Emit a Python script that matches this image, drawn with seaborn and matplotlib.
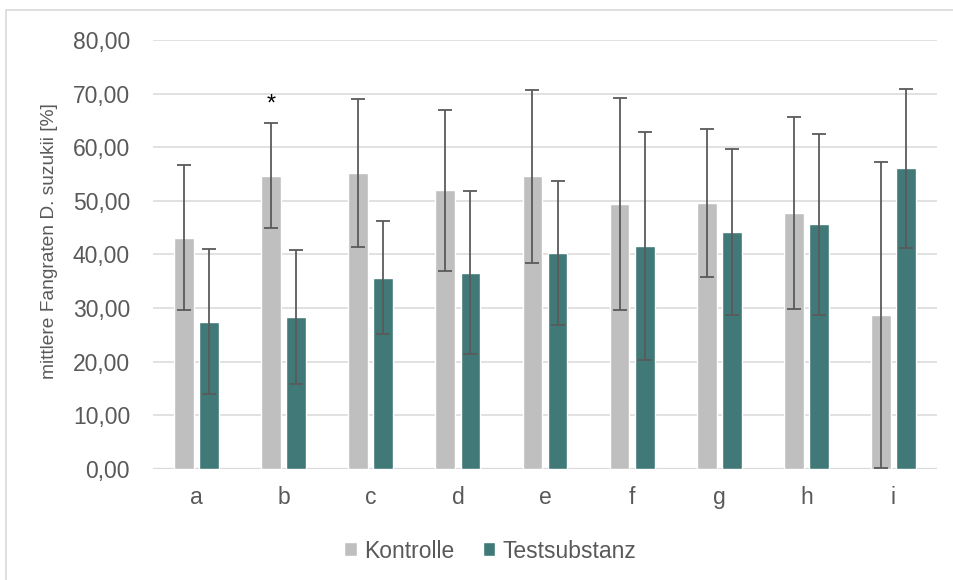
import matplotlib
matplotlib.use("Agg")
import matplotlib.pyplot as plt
from matplotlib.patches import Rectangle
import seaborn as sns
import pandas as pd
import numpy as np

# Categories and series (means with standard deviations)
categories = ["a", "b", "c", "d", "e", "f", "g", "h", "i"]
groups = ["Kontrolle", "Testsubstanz"]
kontrolle = [43.1, 54.7, 55.2, 52.0, 54.6, 49.4, 49.6, 47.7, 28.7]
kontrolle_sd = [13.5, 9.8, 13.8, 15.0, 16.1, 19.7, 13.8, 17.9, 28.5]
testsubstanz = [27.5, 28.4, 35.7, 36.6, 40.3, 41.6, 44.2, 45.6, 56.1]
testsubstanz_sd = [13.6, 12.5, 10.5, 15.2, 13.4, 21.2, 15.4, 16.8, 14.8]
yticks = [0, 10, 20, 30, 40, 50, 60, 70, 80]
ylabel = "mittlere Fangraten D. suzukii [%]"

colors = {"Kontrolle": "#BFBFBF", "Testsubstanz": "#407977"}
text_color = "#595959"
grid_color = "#D9D9D9"

sns.set_theme(style="white")
plt.rcParams["font.family"] = ["Liberation Sans", "DejaVu Sans"]

df = pd.DataFrame({
    "Kategorie": categories * 2,
    "Gruppe": [groups[0]] * len(categories) + [groups[1]] * len(categories),
    "Wert": kontrolle + testsubstanz,
})

fig = plt.figure(figsize=(9.54, 5.8), dpi=100)
W, H = 954, 580
ax = fig.add_axes([153 / W, 1 - 469 / H, (937 - 153) / W, (469 - 40) / H])

sns.barplot(data=df, x="Kategorie", y="Wert", hue="Gruppe",
            hue_order=groups, order=categories, palette=colors,
            width=0.577, gap=0.21, errorbar=None, saturation=1,
            ax=ax, zorder=2)

# Error bars at the bar centres
for container, sd, vals in zip(ax.containers, [kontrolle_sd, testsubstanz_sd],
                               [kontrolle, testsubstanz]):
    xs = [p.get_x() + p.get_width() / 2 for p in container.patches]
    ax.errorbar(xs, vals, yerr=sd, fmt="none", ecolor="#5A5A5A",
                elinewidth=1.3, capsize=4.7, capthick=1.3, zorder=3,
                clip_on=True)

# Significance marker above group b
xb = ax.containers[0].patches[1]
ax.text(xb.get_x() + xb.get_width() / 2, 66.0, "*", ha="center", va="bottom",
        fontsize=17, color="black", zorder=4)

ax.set_ylim(0, 80)
ax.set_xlim(-0.5, len(categories) - 0.5)
ax.set_yticks(yticks)
ax.set_yticklabels([f"{v:.2f}".replace(".", ",") for v in yticks])
ax.yaxis.grid(True, color=grid_color, linewidth=1.1, zorder=0)
ax.set_axisbelow(True)
for s in ax.spines.values():
    s.set_visible(False)
ax.axhline(0, color=grid_color, linewidth=1.6, zorder=1)
ax.tick_params(axis="y", length=0, pad=16.5, labelsize=16.5, labelcolor=text_color)
ax.tick_params(axis="x", length=0, pad=12, labelsize=16.5, labelcolor=text_color)
ax.set_xlabel("")
ax.set_ylabel(ylabel, fontsize=13.8, color=text_color)
ax.yaxis.set_label_coords((58 - 153) / (937 - 153), (469 - 241) / (469 - 40))

handles, labels = ax.get_legend_handles_labels()
ax.legend_.remove()
fig.legend(handles, labels, loc="center", bbox_to_anchor=(490 / W, 1 - 551 / H),
           ncol=2, frameon=False, fontsize=16.5, labelcolor=text_color,
           handlelength=0.55, handleheight=0.55, handletextpad=0.3,
           columnspacing=1.25)

# Chart area border
fig.patches.append(Rectangle((6 / W, -0.1), 1.2, 1 - 10 / H + 0.1,
                             transform=fig.transFigure, fill=False,
                             edgecolor="#D9D9D9", linewidth=1.2))

fig.savefig("out.png", dpi=100, facecolor="white")
